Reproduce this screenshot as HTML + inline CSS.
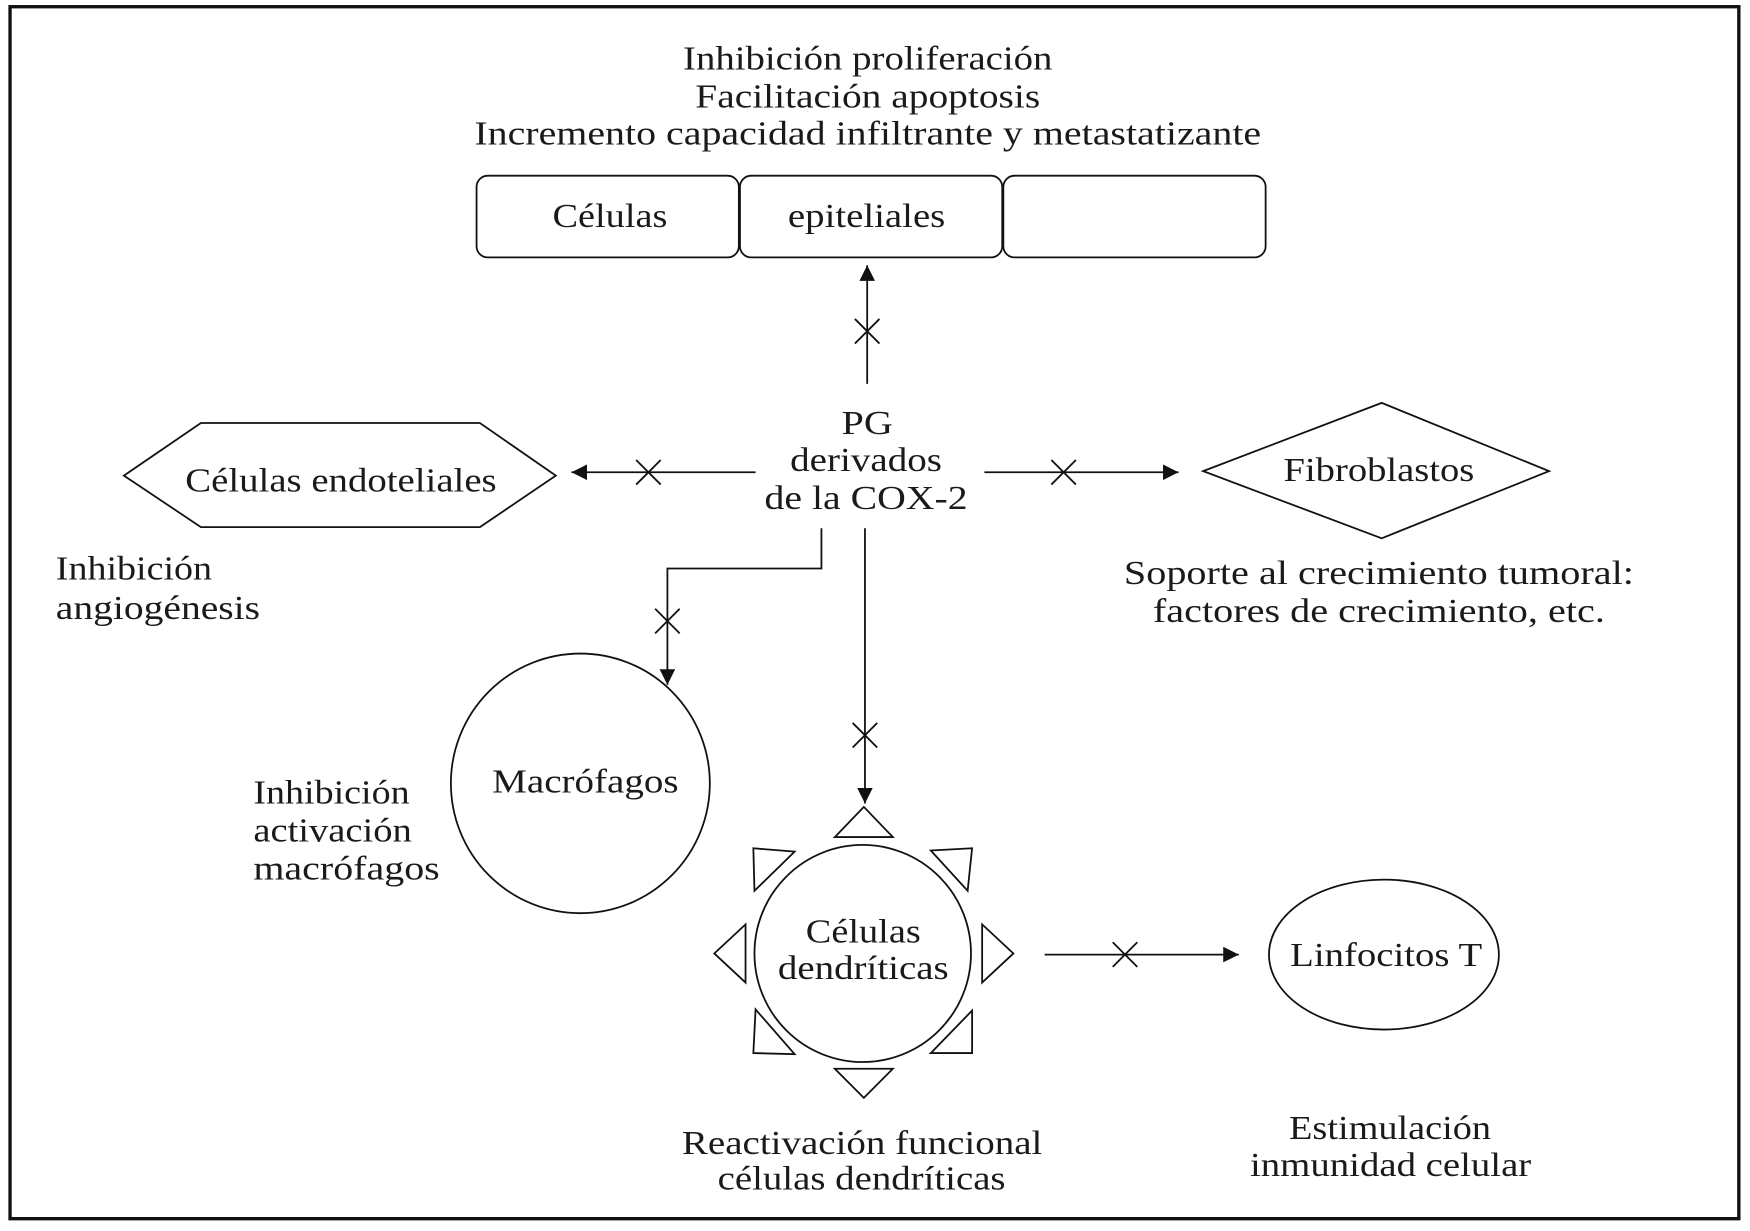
<!DOCTYPE html>
<html><head><meta charset="utf-8">
<style>
html,body{margin:0;padding:0;background:#fff;}
svg{display:block;}
text{font-family:"Liberation Serif",serif;font-size:30px;fill:#1a1a1a;}
</style></head>
<body>
<svg width="1750" height="1231" viewBox="0 0 1568 1100" preserveAspectRatio="none" xmlns="http://www.w3.org/2000/svg">
<defs>
<marker id="ah" viewBox="0 0 10 10" refX="10" refY="5" markerWidth="14" markerHeight="14" markerUnits="userSpaceOnUse" orient="auto">
<path d="M0,0 L10,5 L0,10 z" fill="#111"/>
</marker>
</defs>
<rect x="9" y="6" width="1549" height="1083" fill="#fff" stroke="#111" stroke-width="3"/>
<g fill="none" stroke="#111" stroke-width="1.6">
<rect x="427" y="157" width="235" height="73" rx="10"/>
<rect x="663" y="157" width="235" height="73" rx="10"/>
<rect x="899" y="157" width="235" height="73" rx="10"/>
<polygon points="111,425 180,378 430,378 498,425 430,471 180,471"/>
<polygon points="1078,421 1238,360 1388,421 1238,481"/>
<circle cx="520" cy="700" r="116"/>
<circle cx="773" cy="852" r="97"/>
<ellipse cx="1240" cy="853" rx="103" ry="67"/>
<polygon points="748,748 800,748 774,721"/>
<polygon points="748,955 800,955 774,981"/>
<polygon points="668,826 668,878 640,852"/>
<polygon points="880,826 880,878 908,852"/>
<polygon points="675,758 712,761 676,796"/>
<polygon points="871,758 834,760 867,796"/>
<polygon points="675,941 712,942 677,902"/>
<polygon points="871,941 834,941 871,903"/>
</g>
<g stroke="#111" stroke-width="1.6" fill="none">
<line x1="777" y1="343" x2="777" y2="237" marker-end="url(#ah)"/>
<line x1="677" y1="422" x2="512" y2="422" marker-end="url(#ah)"/>
<line x1="882" y1="422" x2="1056" y2="422" marker-end="url(#ah)"/>
<polyline points="736,472 736,508 598,508 598,612" marker-end="url(#ah)"/>
<line x1="775" y1="472" x2="775" y2="718" marker-end="url(#ah)"/>
<line x1="936" y1="853" x2="1110" y2="853" marker-end="url(#ah)"/>
<path d="M766,285 L788,307 M788,285 L766,307"/>
<path d="M570,411 L592,433 M592,411 L570,433"/>
<path d="M942,411 L964,433 M964,411 L942,433"/>
<path d="M587,544 L609,566 M609,544 L587,566"/>
<path d="M764,646 L786,668 M786,646 L764,668"/>
<path d="M997,842 L1019,864 M1019,842 L997,864"/>
</g>
<g lengthAdjust="spacingAndGlyphs">
<text x="612" y="62" textLength="331" lengthAdjust="spacingAndGlyphs">Inhibición proliferación</text>
<text x="623" y="96" textLength="309" lengthAdjust="spacingAndGlyphs">Facilitación apoptosis</text>
<text x="425" y="129" textLength="705" lengthAdjust="spacingAndGlyphs">Incremento capacidad infiltrante y metastatizante</text>
<text x="495" y="203" textLength="103" lengthAdjust="spacingAndGlyphs">Células</text>
<text x="706" y="203" textLength="141" lengthAdjust="spacingAndGlyphs">epiteliales</text>
<text x="754" y="388" textLength="46" lengthAdjust="spacingAndGlyphs">PG</text>
<text x="708" y="421" textLength="136" lengthAdjust="spacingAndGlyphs">derivados</text>
<text x="685" y="455" textLength="182" lengthAdjust="spacingAndGlyphs">de la COX-2</text>
<text x="166" y="439" textLength="279" lengthAdjust="spacingAndGlyphs">Células endoteliales</text>
<text x="1150" y="430" textLength="171" lengthAdjust="spacingAndGlyphs">Fibroblastos</text>
<text x="1007" y="522" textLength="457" lengthAdjust="spacingAndGlyphs">Soporte al crecimiento tumoral:</text>
<text x="1033" y="556" textLength="405" lengthAdjust="spacingAndGlyphs">factores de crecimiento, etc.</text>
<text x="441" y="708" textLength="167" lengthAdjust="spacingAndGlyphs">Macrófagos</text>
<text x="722" y="842" textLength="103" lengthAdjust="spacingAndGlyphs">Células</text>
<text x="697" y="875" textLength="153" lengthAdjust="spacingAndGlyphs">dendríticas</text>
<text x="1156" y="863" textLength="172" lengthAdjust="spacingAndGlyphs">Linfocitos T</text>
<text x="611" y="1031" textLength="323" lengthAdjust="spacingAndGlyphs">Reactivación funcional</text>
<text x="643" y="1063" textLength="258" lengthAdjust="spacingAndGlyphs">células dendríticas</text>
<text x="1155" y="1018" textLength="181" lengthAdjust="spacingAndGlyphs">Estimulación</text>
<text x="1120" y="1051" textLength="252" lengthAdjust="spacingAndGlyphs">inmunidad celular</text>
<text x="50" y="518" textLength="140" lengthAdjust="spacingAndGlyphs">Inhibición</text>
<text x="50" y="553" textLength="183" lengthAdjust="spacingAndGlyphs">angiogénesis</text>
<text x="227" y="718" textLength="140" lengthAdjust="spacingAndGlyphs">Inhibición</text>
<text x="227" y="752" textLength="142" lengthAdjust="spacingAndGlyphs">activación</text>
<text x="227" y="786" textLength="167" lengthAdjust="spacingAndGlyphs">macrófagos</text>
</g>
</svg>
</body></html>
